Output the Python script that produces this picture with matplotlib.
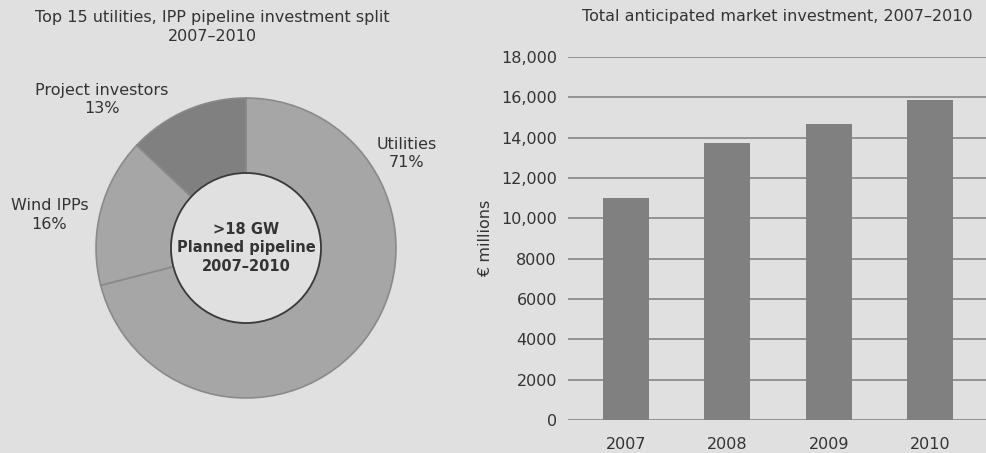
import matplotlib.pyplot as plt
from matplotlib.patches import Circle
from matplotlib.ticker import FuncFormatter

# pie data
pie_labels = ['Utilities', 'Wind IPPs', 'Project investors']
pie_shares = [71, 16, 13]

# bar data
years = ['2007', '2008', '2009', '2010']
investment = [11000, 13750, 14700, 15850]

bg = '#e0e0e0'
plt.rcParams['font.family'] = ['DejaVu Sans']
plt.rcParams['text.color'] = '#333333'
plt.rcParams['axes.labelcolor'] = '#333333'
fs = 11.5

fig = plt.figure(figsize=(9.86, 4.53), dpi=100, facecolor=bg)

# -------------------- donut ------------------------
ax1 = fig.add_axes([0, 0, 480 / 986, 1])
ax1.set_facecolor(bg)
ax1.pie(pie_shares, startangle=90, counterclock=False, radius=1,
        colors=['#a6a6a6', '#a6a6a6', '#808080'],
        wedgeprops=dict(width=0.5, edgecolor='#8a8a8a', linewidth=1.2))
ax1.add_patch(Circle((0, 0), 0.5, facecolor=bg, edgecolor='#3a3a3a', linewidth=1.3, zorder=5))
ax1.set_xlim(-246 / 150, 234 / 150)
ax1.set_ylim(-205 / 150, 248 / 150)
ax1.set_aspect('auto')
ax1.axis('off')

label_pos = [(1.07, 0.63), (-1.31, 0.22), (-0.96, 0.99)]
for name, share, (x, y) in zip(pie_labels, pie_shares, label_pos):
    ax1.text(x, y, f'{name}\n{share}%', ha='center', va='center', fontsize=fs,
             linespacing=1.3)
ax1.text(0, 0, '>18 GW\nPlanned pipeline\n2007\u20132010', ha='center', va='center',
         fontsize=10.5, fontweight='bold', linespacing=1.3, zorder=6)

fig.text(212 / 986, 1 - 27 / 453, 'Top 15 utilities, IPP pipeline investment split\n2007\u20132010',
         ha='center', va='center', fontsize=fs, linespacing=1.3)

# -------------------- bars ------------------------
ax2 = fig.add_axes([568 / 986, 33 / 453, 418 / 986, 363 / 453])
ax2.set_facecolor(bg)
xs = range(len(years))
ax2.bar(xs, investment, width=0.45, color='#808080', zorder=3)
ax2.set_xlim(-0.57, 3.55)
ax2.set_ylim(0, 18000)
ax2.set_yticks(range(0, 18001, 2000))
ax2.yaxis.set_major_formatter(FuncFormatter(lambda v, p: f'{int(v):,}' if v >= 10000 else f'{int(v)}'))
ax2.grid(axis='y', color='#8c8c8c', linewidth=1.3, zorder=0)
ax2.set_xticks(list(xs))
ax2.set_xticklabels(years)
ax2.tick_params(length=0, labelsize=fs, labelcolor='#333333')
ax2.tick_params(axis='x', pad=12)
ax2.tick_params(axis='y', pad=8)
for s in ax2.spines.values():
    s.set_visible(False)
ax2.set_ylabel('\u20ac millions', fontsize=fs, labelpad=6)
ax2.set_title('Total anticipated market investment, 2007\u20132010', fontsize=fs, pad=26)

fig.savefig('out.png', dpi=100, facecolor=bg)
